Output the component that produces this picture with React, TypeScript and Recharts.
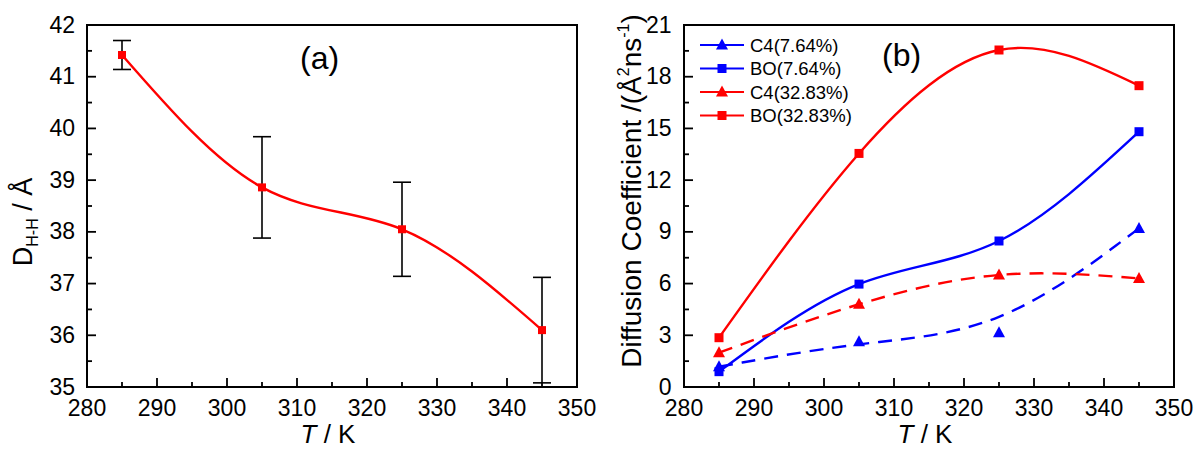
import React from 'react';
import { LineChart, Line, XAxis, YAxis, ErrorBar, ReferenceArea, Legend } from 'recharts';

// ---------- data ----------
const temperatures = [285, 305, 325, 345];
const dhhValues = [41.42, 38.86, 38.05, 36.1];
const dhhErrors = [0.28, 0.98, 0.91, 1.02];

const c4Low = [1.18, 2.63, 3.15, 9.2];
const boLow = [0.89, 5.97, 8.47, 14.81];
const c4High = [1.99, 4.8, 6.5, 6.3];
const boHigh = [2.86, 13.55, 19.55, 17.48];

const seriesNames = ['C4(7.64%)', 'BO(7.64%)', 'C4(32.83%)', 'BO(32.83%)'];

const xTicks = [280, 285, 290, 295, 300, 305, 310, 315, 320, 325, 330, 335, 340, 345, 350];
const leftYTicks = [35, 35.5, 36, 36.5, 37, 37.5, 38, 38.5, 39, 39.5, 40, 40.5, 41, 41.5, 42];
const rightYTicks = [0, 1.5, 3, 4.5, 6, 7.5, 9, 10.5, 12, 13.5, 15, 16.5, 18, 19.5, 21];

const leftData = temperatures.map((t, i) => ({ T: t, d: dhhValues[i], err: dhhErrors[i] }));
const rightData = temperatures.map((t, i) => ({
  T: t,
  c4Low: c4Low[i],
  boLow: boLow[i],
  c4High: c4High[i],
  boHigh: boHigh[i],
}));

// ---------- styles ----------
const FONT = 'Arial, "Liberation Sans", sans-serif';
const RED = '#ff0000';
const BLUE = '#0000ff';
const TICK_FONT = 23;

// ---------- tick renderers ----------
const makeXTick = () => (props: any) => {
  const { x, y, payload } = props;
  const v = payload.value;
  const major = v % 10 === 0;
  return (
    <g>
      <line x1={x} x2={x} y1={y} y2={y - (major ? 9 : 5)} stroke="#000" strokeWidth={1.8} />
      {major && (
        <text x={x} y={y + 29} textAnchor="middle" fontSize={TICK_FONT} fontFamily={FONT} fill="#000">
          {v}
        </text>
      )}
    </g>
  );
};

const makeYTick = (isMajor: (v: number) => boolean, gap: number) => (props: any) => {
  const { x, y, payload } = props;
  const v = payload.value;
  const major = isMajor(v);
  return (
    <g>
      <line x1={x} x2={x + (major ? 9 : 5)} y1={y} y2={y} stroke="#000" strokeWidth={1.8} />
      {major && (
        <text x={x - gap} y={y + 7.5} textAnchor="end" fontSize={TICK_FONT} fontFamily={FONT} fill="#000">
          {v}
        </text>
      )}
    </g>
  );
};

// ---------- markers ----------
const squareDot = (color: string, size: number) => (p: any) => {
  if (p.cx == null || p.cy == null) return <g key={p.index} />;
  return (
    <rect key={p.index} x={p.cx - size / 2} y={p.cy - size / 2} width={size} height={size} fill={color} stroke="none" />
  );
};

const triangleDot = (color: string) => (p: any) => {
  if (p.cx == null || p.cy == null) return <g key={p.index} />;
  const { cx, cy } = p;
  return (
    <polygon key={p.index} points={`${cx},${cy - 6.5} ${cx - 6},${cy + 4.5} ${cx + 6},${cy + 4.5}`} fill={color} stroke="none" />
  );
};

// ---------- labels ----------
const XLabel = (props: any) => {
  const vb = props.viewBox || {};
  const cx = vb.x + vb.width / 2 - 4;
  return (
    <text x={cx} y={vb.y + 56} textAnchor="middle" fontSize={26} fontFamily={FONT} fill="#000">
      <tspan fontStyle="italic">T</tspan>
      <tspan> / K</tspan>
    </text>
  );
};

const LeftYLabel = (props: any) => {
  const vb = props.viewBox || {};
  const x = vb.x + 32;
  const y = vb.y + vb.height / 2 + 16;
  return (
    <text x={x} y={y} transform={`rotate(-90 ${x} ${y})`} textAnchor="middle" fontSize={27} fontFamily={FONT} fill="#000">
      <tspan>D</tspan>
      <tspan fontSize={16} dy={6}>H-H</tspan>
      <tspan dy={-6}> / Å</tspan>
    </text>
  );
};

const RightYLabel = (props: any) => {
  const vb = props.viewBox || {};
  const x = vb.x + 41;
  const y = vb.y + vb.height / 2 - 15;
  return (
    <text x={x} y={y} transform={`rotate(-90 ${x} ${y})`} textAnchor="middle" fontSize={28} fontFamily={FONT} fill="#000">
      <tspan>Diffusion Coefficient /(Å</tspan>
      <tspan fontSize={16} dy={-12}>2</tspan>
      <tspan dy={12}>ns</tspan>
      <tspan fontSize={16} dy={-12}>-1</tspan>
      <tspan dy={12}>)</tspan>
    </text>
  );
};

// ---------- legend ----------
const LegendContent = (props: any) => {
  const payload = [...(props.payload || [])].sort(
    (a: any, b: any) => seriesNames.indexOf(a.value) - seriesNames.indexOf(b.value)
  );
  const rowH = 23.5;
  return (
    <svg width={220} height={rowH * payload.length + 4} style={{ display: 'block' }}>
      {payload.map((entry: any, i: number) => {
        const cy = 12 + i * rowH;
        const color = entry.color;
        const isTri = entry.type === 'triangle';
        return (
          <g key={entry.value}>
            <line x1={0} x2={44} y1={cy} y2={cy} stroke={color} strokeWidth={2.2} />
            {isTri ? (
              <polygon points={`${22},${cy - 6.5} ${16},${cy + 4.5} ${28},${cy + 4.5}`} fill={color} />
            ) : (
              <rect x={22 - 4.5} y={cy - 4.5} width={9} height={9} fill={color} />
            )}
            <text x={50} y={cy + 6.5} fontSize={18.5} fontFamily={FONT} fill="#000">
              {entry.value}
            </text>
          </g>
        );
      })}
    </svg>
  );
};

// ---------- charts ----------
const LeftChart = () => (
  <LineChart width={600} height={450} data={leftData} margin={{ top: 25, right: 23, bottom: 0, left: 0 }}>
    <XAxis
      dataKey="T"
      type="number"
      domain={[280, 350]}
      ticks={xTicks}
      interval={0}
      height={63}
      tickSize={0}
      tickMargin={0}
      tickLine={false}
      axisLine={{ stroke: '#000', strokeWidth: 2 }}
      tick={makeXTick()}
      label={<XLabel />}
    />
    <YAxis
      type="number"
      domain={[35, 42]}
      ticks={leftYTicks}
      interval={0}
      width={87}
      tickSize={0}
      tickMargin={0}
      tickLine={false}
      axisLine={{ stroke: '#000', strokeWidth: 2 }}
      tick={makeYTick((v) => Number.isInteger(v), 12)}
      label={<LeftYLabel />}
    />
    <ReferenceArea x1={280} x2={350} y1={35} y2={42} fill="none" stroke="#000" strokeWidth={2} ifOverflow="visible" />
    <Line
      dataKey="d"
      type="natural"
      stroke={RED}
      strokeWidth={2.4}
      dot={squareDot(RED, 8)}
      activeDot={false}
      isAnimationActive={false}
    >
      <ErrorBar dataKey="err" direction="y" width={9} stroke="#000" strokeWidth={1.6} isAnimationActive={false} />
    </Line>
  </LineChart>
);

const RightChart = () => (
  <LineChart width={596} height={450} data={rightData} margin={{ top: 25, right: 22, bottom: 0, left: 0 }}>
    <XAxis
      dataKey="T"
      type="number"
      domain={[280, 350]}
      ticks={xTicks}
      interval={0}
      height={63}
      tickSize={0}
      tickMargin={0}
      tickLine={false}
      axisLine={{ stroke: '#000', strokeWidth: 2 }}
      tick={makeXTick()}
      label={<XLabel />}
    />
    <YAxis
      type="number"
      domain={[0, 21]}
      ticks={rightYTicks}
      interval={0}
      width={84}
      tickSize={0}
      tickMargin={0}
      tickLine={false}
      axisLine={{ stroke: '#000', strokeWidth: 2 }}
      tick={makeYTick((v) => v % 3 === 0, 12.5)}
      label={<RightYLabel />}
    />
    <ReferenceArea x1={280} x2={350} y1={0} y2={21} fill="none" stroke="#000" strokeWidth={2} ifOverflow="visible" />
    <Legend
      layout="vertical"
      align="center"
      verticalAlign="middle"
      wrapperStyle={{ left: 100, top: 33, width: 220 }}
      content={<LegendContent />}
    />
    <Line
      name={seriesNames[0]}
      dataKey="c4Low"
      type="basis"
      stroke={BLUE}
      strokeWidth={2.4}
      strokeDasharray="14 9"
      legendType="triangle"
      dot={triangleDot(BLUE)}
      activeDot={false}
      isAnimationActive={false}
    />
    <Line
      name={seriesNames[1]}
      dataKey="boLow"
      type="natural"
      stroke={BLUE}
      strokeWidth={2.4}
      legendType="square"
      dot={squareDot(BLUE, 9)}
      activeDot={false}
      isAnimationActive={false}
    />
    <Line
      name={seriesNames[2]}
      dataKey="c4High"
      type="natural"
      stroke={RED}
      strokeWidth={2.4}
      strokeDasharray="14 9"
      legendType="triangle"
      dot={triangleDot(RED)}
      activeDot={false}
      isAnimationActive={false}
    />
    <Line
      name={seriesNames[3]}
      dataKey="boHigh"
      type="natural"
      stroke={RED}
      strokeWidth={2.4}
      legendType="square"
      dot={squareDot(RED, 9)}
      activeDot={false}
      isAnimationActive={false}
    />
  </LineChart>
);

export default function App() {
  return (
    <div style={{ position: 'absolute', left: 0, top: 0, width: 1196, height: 450, background: '#fff', fontFamily: FONT }}>
      <div style={{ position: 'absolute', left: 0, top: 0 }}>
        <LeftChart />
      </div>
      <div style={{ position: 'absolute', left: 600, top: 0 }}>
        <RightChart />
      </div>
      <div style={{ position: 'absolute', left: 300, top: 38, fontSize: 32, lineHeight: '40px', color: '#000' }}>(a)</div>
      <div style={{ position: 'absolute', left: 882, top: 35, fontSize: 32, lineHeight: '40px', color: '#000' }}>(b)</div>
    </div>
  );
}
